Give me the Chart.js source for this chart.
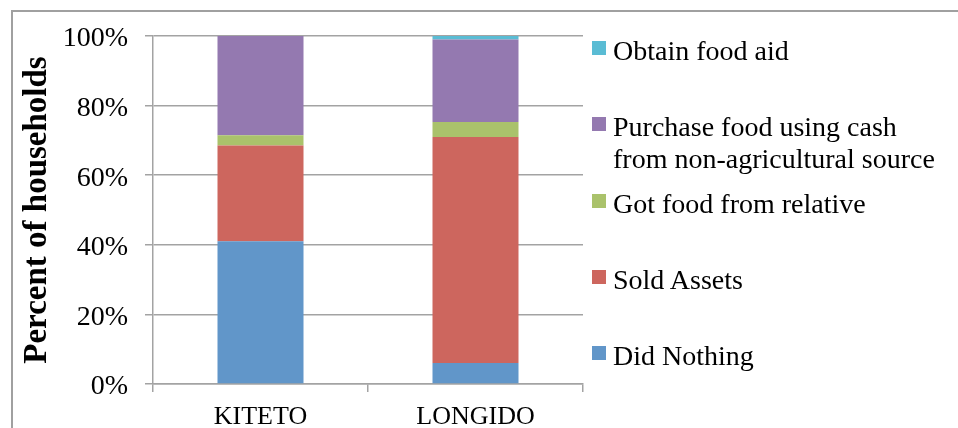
<!DOCTYPE html>
<html>
<head>
<meta charset="utf-8">
<script src="https://cdn.jsdelivr.net/npm/chart.js@4.4.1/dist/chart.umd.min.js"></script>
<style>
  body { margin: 0; background: #fff; }
  #wrap { position: relative; width: 958px; height: 428px; overflow: hidden; }
  #legend { position: absolute; left: 592px; top: 0; font-family: "Liberation Serif", serif; font-size: 28px; line-height: 31.5px; color: #000; }
  .item { position: absolute; left: 0; white-space: nowrap; }
  .box { position: absolute; left: 0; top: 6px; width: 14px; height: 14px; }
  .txt { position: absolute; left: 21px; top: 0; }
</style>
</head>
<body>
<div id="wrap">
  <canvas id="chart" width="958" height="428"></canvas>
  <div id="legend"></div>
</div>
<script>
const districts = ["KITETO", "LONGIDO"];
const didNothing = [41.0, 6.0];
const soldAssets = [27.5, 65.0];
const gotFoodRelative = [3.0, 4.3];
const purchaseFood = [28.5, 23.7];
const obtainFoodAid = [0.0, 1.0];
const yTicks = [0, 20, 40, 60, 80, 100];

const gridGray = "#a3a3a3";

// outer frame of the original chart object (left and top edges only)
const framePlugin = {
  id: "frame",
  beforeDraw(chart) {
    const ctx = chart.ctx;
    ctx.save();
    ctx.strokeStyle = "#a0a0a0";
    ctx.lineWidth = 2;
    ctx.beginPath();
    ctx.moveTo(12, 428);
    ctx.lineTo(12, 11);
    ctx.lineTo(958, 11);
    ctx.stroke();
    ctx.restore();
  }
};

const datasets = [
  { label: "Did Nothing", data: didNothing, backgroundColor: "#6196c9" },
  { label: "Sold Assets", data: soldAssets, backgroundColor: "#cd665e" },
  { label: "Got food from relative", data: gotFoodRelative, backgroundColor: "#aac26b" },
  { label: ["Purchase food using cash", "from non-agricultural source"], data: purchaseFood, backgroundColor: "#9479b0" },
  { label: "Obtain food aid", data: obtainFoodAid, backgroundColor: "#5abcd4" }
];

const chart = new Chart(document.getElementById("chart"), {
  type: "bar",
  data: {
    labels: districts,
    datasets: datasets.map((d) => ({
      ...d,
      barPercentage: 0.4,
      categoryPercentage: 1.0,
      borderWidth: 0
    }))
  },
  options: {
    responsive: false,
    animation: false,
    layout: { padding: { top: 36, right: 375, bottom: 0, left: 0 } },
    plugins: { legend: { display: false }, tooltip: { enabled: false } },
    scales: {
      x: {
        stacked: true,
        afterFit: (scale) => { scale.height = 44; },
        grid: { display: true, drawOnChartArea: false, drawTicks: true, tickLength: 8, color: gridGray, lineWidth: 1.5 },
        border: { color: gridGray, width: 1.5 },
        ticks: { color: "#000", padding: 10, font: { family: "Liberation Serif", size: 26 } }
      },
      y: {
        stacked: true,
        min: 0,
        max: 100,
        afterFit: (scale) => { scale.width = 153; },
        afterBuildTicks: (scale) => { scale.ticks = yTicks.map((v) => ({ value: v })); },
        grid: { color: gridGray, lineWidth: 1.5, tickLength: 8 },
        border: { color: gridGray, width: 1.5 },
        ticks: {
          color: "#000",
          padding: 17,
          labelOffset: 3,
          font: { family: "Liberation Serif", size: 28 },
          callback: (v) => v + "%"
        },
        title: {
          display: true,
          text: "Percent of households",
          color: "#000",
          padding: { top: 18, bottom: 0 },
          font: { family: "Liberation Serif", size: 33, weight: "bold" }
        }
      }
    }
  },
  plugins: [framePlugin]
});

// legend on the right, top item first (reverse of stacking order)
const legend = document.getElementById("legend");
const legendTop = 35;
const legendStep = 76.3;
datasets.slice().reverse().forEach((d, i) => {
  const item = document.createElement("div");
  item.className = "item";
  item.style.top = (legendTop + i * legendStep) + "px";
  const box = document.createElement("div");
  box.className = "box";
  box.style.background = d.backgroundColor;
  const txt = document.createElement("div");
  txt.className = "txt";
  txt.innerHTML = [].concat(d.label).join("<br>");
  item.appendChild(box);
  item.appendChild(txt);
  legend.appendChild(item);
});
</script>
</body>
</html>
